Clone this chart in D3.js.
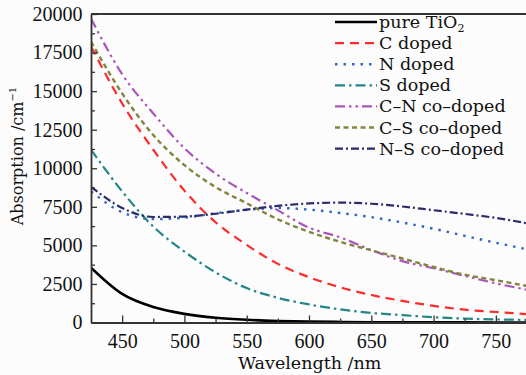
<!DOCTYPE html>
<html>
<head>
<meta charset="utf-8">
<script src="https://cdn.jsdelivr.net/npm/d3@7"></script>
<style>
  html, body { margin: 0; padding: 0; background: #fcfcfc; }
  svg { display: block; }
</style>
</head>
<body>
<div id="app"></div>
<script>
// wavelength grid (nm)
const wavelengths = [425, 450, 475, 500, 525, 550, 575, 600, 625, 650, 675, 700, 725, 750, 775];

// absorption (cm^-1)
const pureTiO2 = [3550, 1850, 1000, 560, 310, 175, 100, 58, 35, 20, 12, 8, 5, 3, 2];
const cDoped = [17900, 14200, 11200, 8550, 6500, 5030, 3800, 2940, 2280, 1780, 1400, 1080, 830, 680, 545];
const nDoped = [8500, 7150, 6700, 6800, 7080, 7300, 7420, 7320, 7100, 6830, 6480, 6080, 5620, 5170, 4750];
const sDoped = [11200, 8500, 6220, 4600, 3250, 2230, 1600, 1170, 850, 620, 480, 340, 250, 200, 170];
const cnCoDoped = [19700, 16100, 13550, 11300, 9650, 8400, 7270, 6150, 5520, 4700, 3980, 3520, 3020, 2540, 2120];
const csCoDoped = [18200, 14850, 12150, 10200, 8780, 7730, 6690, 5880, 5230, 4680, 4150, 3600, 3100, 2740, 2370];
const nsCoDoped = [8800, 7430, 6840, 6870, 7050, 7320, 7560, 7720, 7770, 7700, 7520, 7280, 7040, 6780, 6430];

const seriesLabels = ["pure TiO", "C doped", "N doped", "S doped", "C\u2013N co\u2013doped", "C\u2013S co\u2013doped", "N\u2013S co\u2013doped"];
const yTicks = [0, 2500, 5000, 7500, 10000, 12500, 15000, 17500, 20000];
const xTicks = [450, 500, 550, 600, 650, 700, 750];

const series = [
  { name: seriesLabels[0], values: pureTiO2, color: "#000000", dash: null, width: 2.6 },
  { name: seriesLabels[1], values: cDoped, color: "#ff2a2a", dash: "9,6", width: 2.2 },
  { name: seriesLabels[2], values: nDoped, color: "#3463c8", dash: "2.5,6", width: 2.4 },
  { name: seriesLabels[3], values: sDoped, color: "#238585", dash: "10,4,2.5,4", width: 2.2 },
  { name: seriesLabels[4], values: cnCoDoped, color: "#aa55bb", dash: "10,4,2.5,4,2.5,4", width: 2.2 },
  { name: seriesLabels[5], values: csCoDoped, color: "#85843e", dash: "5,3.5", width: 2.4 },
  { name: seriesLabels[6], values: nsCoDoped, color: "#2b2b6b", dash: "8,3,2,3", width: 2.2 },
];

const width = 526, height = 375;
const plotLeft = 91, plotTop = 14, plotBottom = 322.5, plotRight = 527;

const svg = d3.select("#app").append("svg")
  .attr("width", width)
  .attr("height", height)
  .attr("viewBox", [0, 0, width, height]);

const x = d3.scaleLinear().domain([425, 775]).range([plotLeft, plotRight]);
const y = d3.scaleLinear().domain([0, 20000]).range([plotBottom, plotTop]);

svg.append("defs").append("clipPath").attr("id", "clip")
  .append("rect")
  .attr("x", plotLeft).attr("y", plotTop)
  .attr("width", plotRight - plotLeft).attr("height", plotBottom - plotTop);

// curves
const line = d3.line()
  .x((d, i) => x(wavelengths[i]))
  .y(d => y(d))
  .curve(d3.curveMonotoneX);

svg.append("g")
  .attr("clip-path", "url(#clip)")
  .selectAll("path")
  .data(series)
  .join("path")
  .attr("fill", "none")
  .attr("stroke", d => d.color)
  .attr("stroke-width", d => d.width)
  .attr("stroke-dasharray", d => d.dash)
  .attr("d", d => line(d.values));

// axes
const axisColor = "#333";
const tickFont = "'Liberation Serif', serif";
const labelFont = "'DejaVu Serif', serif";

svg.append("g")
  .attr("transform", `translate(0,${plotBottom})`)
  .call(d3.axisBottom(x).tickValues(xTicks).tickFormat(d3.format("d"))
    .tickSize(-7).tickSizeOuter(0).tickPadding(11));
svg.append("g")
  .attr("transform", `translate(0,${plotBottom})`)
  .call(d3.axisBottom(x).tickValues([475, 525, 575, 625, 675, 725]).tickSize(-4).tickFormat(""))
  .call(g => g.select(".domain").remove());

svg.append("g")
  .attr("transform", `translate(${plotLeft},0)`)
  .call(d3.axisLeft(y).tickValues(yTicks).tickFormat(d3.format("d"))
    .tickSize(-6).tickSizeOuter(0).tickPadding(8.5));
svg.append("g")
  .attr("transform", `translate(${plotLeft},0)`)
  .call(d3.axisLeft(y).tickValues(d3.range(1250, 20000, 2500)).tickSize(-4).tickFormat(""))
  .call(g => g.select(".domain").remove());

svg.selectAll(".tick line").attr("stroke", axisColor).attr("stroke-width", 1.3);
svg.selectAll(".domain").attr("stroke", axisColor).attr("stroke-width", 1.8);
svg.selectAll(".tick text")
  .attr("font-family", tickFont)
  .attr("font-size", 20)
  .attr("fill", "#111");

// top frame line
svg.append("line")
  .attr("x1", plotLeft).attr("x2", width)
  .attr("y1", plotTop).attr("y2", plotTop)
  .attr("stroke", axisColor).attr("stroke-width", 1.8);

// axis titles
svg.append("text")
  .attr("x", (236.7 + 382.7) / 2)
  .attr("y", 369)
  .attr("text-anchor", "middle")
  .attr("font-family", labelFont)
  .attr("font-size", 17.5)
  .attr("fill", "#111")
  .text("Wavelength /nm");

const yTitle = svg.append("text")
  .attr("transform", `translate(23,156) rotate(-90)`)
  .attr("text-anchor", "middle")
  .attr("font-family", labelFont)
  .attr("font-size", 16)
  .attr("fill", "#111");
yTitle.append("tspan").text("Absorption /cm");
yTitle.append("tspan").attr("font-size", 10).attr("dy", -7).text("\u22121");

// legend
const legend = svg.append("g").attr("transform", "translate(335,22)");
const rows = legend.selectAll("g")
  .data(series)
  .join("g")
  .attr("transform", (d, i) => `translate(0,${i * 21.1})`);

rows.append("line")
  .attr("x1", 0).attr("x2", 42)
  .attr("stroke", d => d.color)
  .attr("stroke-width", d => d.width)
  .attr("stroke-dasharray", d => d.dash);

const labels = rows.append("text")
  .attr("x", 44)
  .attr("y", 6)
  .attr("font-family", labelFont)
  .attr("font-size", 17.5)
  .attr("fill", "#111")
  .text(d => d.name);

// subscript for TiO2
labels.filter((d, i) => i === 0)
  .append("tspan")
  .attr("font-size", 11)
  .attr("dy", 4)
  .text("2");
</script>
</body>
</html>
